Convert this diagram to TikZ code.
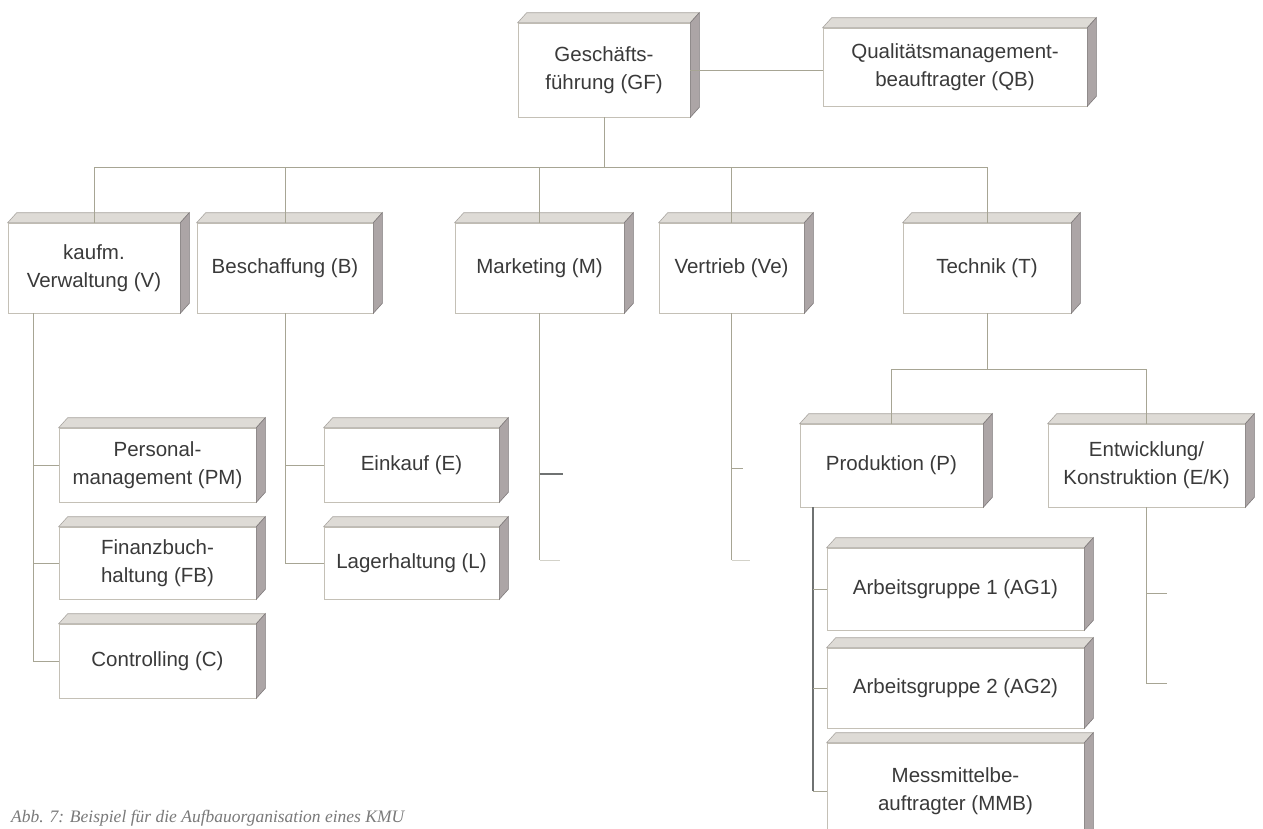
\documentclass[tikz,border=0pt]{standalone}
\usepackage{fontspec}
\setmainfont{Liberation Sans}
\newfontfamily\capfont{Liberation Serif}
\usetikzlibrary{calc}
\definecolor{txt}{HTML}{3A3A3A}
\definecolor{frontc}{HTML}{C4C0B6}
\definecolor{topc}{HTML}{DEDBD6}
\definecolor{topedge}{HTML}{A9A5A0}
\definecolor{sidec}{HTML}{ACA5A6}
\definecolor{sideedge}{HTML}{7E797A}
\definecolor{linec}{HTML}{A7A594}
\definecolor{darkline}{HTML}{6F7272}
\definecolor{capc}{HTML}{7A7A7A}
\tikzset{
  orgbox/.style={draw=frontc, line width=0.6pt, fill=white, text=txt,
    font=\fontsize{20.5}{28}\selectfont, align=center, inner sep=0pt},
  conn/.style={draw=linec, line width=0.9pt},
  darkconn/.style={draw=darkline, line width=1.1pt},
  faintconn/.style={draw=linec!50, line width=0.8pt},
  topface/.style={fill=topc, draw=topedge, line width=0.6pt},
  sideface/.style={fill=sidec, draw=sideedge, line width=0.6pt},
}
\newcommand\depthfaces[1]{%
  \path[topface] (#1.north west) -- ++(9,-10) -- ($(#1.north east)+(9,-10)$) -- (#1.north east) -- cycle;
  \path[sideface] (#1.north east) -- ++(9,-10) -- ($(#1.south east)+(9,-10)$) -- (#1.south east) -- cycle;
}
\begin{document}
\begin{tikzpicture}[x=1pt,y=-1pt]
\useasboundingbox (0,0) rectangle (1263,828);
\fill[white] (0,0) rectangle (1263,828);

% top level
\node[orgbox, minimum width=172pt, minimum height=94pt] (GF) at (604,70) {Geschäfts-\\führung (GF)};
\node[orgbox, minimum width=264pt, minimum height=78pt] (QB) at (955,67) {Qualitätsmanagement-\\beauftragter (QB)};

% level 1
\node[orgbox, minimum width=172pt, minimum height=90pt] (V) at (94,268) {kaufm.\\Verwaltung (V)};
\node[orgbox, minimum width=176pt, minimum height=90pt] (B) at (285,268) {Beschaffung (B)};
\node[orgbox, minimum width=169pt, minimum height=90pt] (M) at (539.5,268) {Marketing (M)};
\node[orgbox, minimum width=145pt, minimum height=90pt] (Ve) at (731.5,268) {Vertrieb (Ve)};
\node[orgbox, minimum width=168pt, minimum height=90pt] (T) at (987,268) {Technik (T)};

% level 2 left
\node[orgbox, minimum width=197pt, minimum height=74pt] (PM) at (157.5,465) {Personal-\\management (PM)};
\node[orgbox, minimum width=197pt, minimum height=72pt] (FB) at (157.5,563) {Finanzbuch-\\haltung (FB)};
\node[orgbox, minimum width=197pt, minimum height=74pt] (C) at (157.5,661) {Controlling (C)};
\node[orgbox, minimum width=175pt, minimum height=74pt] (E) at (411.5,465) {Einkauf (E)};
\node[orgbox, minimum width=175pt, minimum height=72pt] (L) at (411.5,563) {Lagerhaltung (L)};

% level 2 technik
\node[orgbox, minimum width=183pt, minimum height=83pt] (P) at (891.5,465.5) {Produktion (P)};
\node[orgbox, minimum width=197pt, minimum height=83pt] (EK) at (1146.5,465.5) {Entwicklung/\\Konstruktion (E/K)};

% level 3
\node[orgbox, minimum width=257pt, minimum height=82pt] (AG1) at (955.5,589) {Arbeitsgruppe 1 (AG1)};
\node[orgbox, minimum width=257pt, minimum height=80pt] (AG2) at (955.5,688) {Arbeitsgruppe 2 (AG2)};
\node[orgbox, minimum width=257pt, minimum height=96pt] (MMB) at (955.5,791) {Messmittelbe-\\auftragter (MMB)};

\foreach \n in {GF,QB,V,B,M,Ve,T,PM,FB,C,E,L,P,EK,AG1,AG2,MMB} {\depthfaces{\n}}

% connectors
\coordinate (bus) at (0,167);
\draw[conn] (GF.east) -- (GF.east -| QB.west);
\draw[conn] (GF.south) -- (GF.south |- bus);
\draw[conn] (V.north |- bus) -- (T.north |- bus);
\foreach \n in {V,B,M,Ve,T} {\draw[conn] (\n.north |- bus) -- (\n.north);}

% kaufm. Verwaltung
\coordinate (vx) at (33,0);
\draw[conn] (vx |- V.south) -- (vx |- C.west) -- (C.west);
\draw[conn] (vx |- PM.west) -- (PM.west);
\draw[conn] (vx |- FB.west) -- (FB.west);

% Beschaffung
\draw[conn] (B.south) -- (B.south |- L.west) -- (L.west);
\draw[conn] (B.south |- E.west) -- (E.west);

% Marketing and Vertrieb (stubs)
\coordinate (Mend) at (539.5,560);
\coordinate (Mtick) at (563,474);
\coordinate (Mfoot) at (560,560);
\draw[conn] (M.south) -- (Mend);
\draw[darkconn] (M.south |- Mtick) -- (Mtick);
\draw[faintconn] (Mend) -- (Mfoot);
\coordinate (Veend) at (731.5,560);
\coordinate (Vetick) at (743,468);
\coordinate (Vefoot) at (750,560);
\draw[conn] (Ve.south) -- (Veend);
\draw[conn] (Ve.south |- Vetick) -- (Vetick);
\draw[faintconn] (Veend) -- (Vefoot);

% Technik
\coordinate (tbus) at (0,369);
\draw[conn] (T.south) -- (T.south |- tbus);
\draw[conn] (P.north |- tbus) -- (EK.north |- tbus);
\draw[conn] (P.north |- tbus) -- (P.north);
\draw[conn] (EK.north |- tbus) -- (EK.north);

% Produktion
\coordinate (px) at (813,0);
\draw[darkconn] (px |- P.south) -- (px |- MMB.west);
\draw[conn] (px |- AG1.west) -- (AG1.west);
\draw[conn] (px |- AG2.west) -- (AG2.west);
\draw[conn] (px |- MMB.west) -- (MMB.west);

% Entwicklung
\coordinate (EKend) at (1146.5,683);
\coordinate (EKtick) at (1167,593);
\coordinate (EKfoot) at (1167,683);
\draw[conn] (EK.south) -- (EKend) -- (EKfoot);
\draw[conn] (EK.south |- EKtick) -- (EKtick);

% caption
\node[anchor=base west, inner sep=0pt, text=capc,
  font=\capfont\itshape\fontsize{17.5}{20}\selectfont] (cap) at (11,822)
  {Abb. 7: Beispiel für die Aufbauorganisation eines KMU};
\end{tikzpicture}
\end{document}
